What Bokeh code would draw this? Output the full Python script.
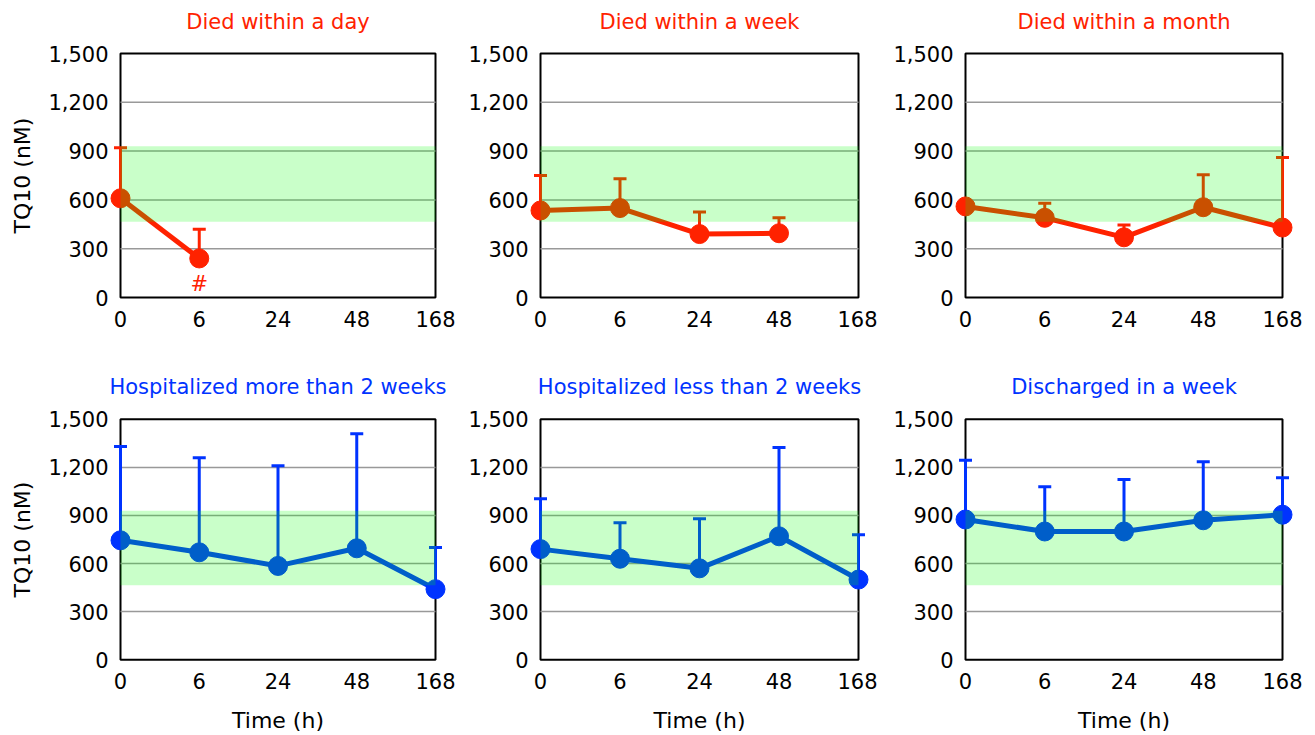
import numpy as np
from bokeh.plotting import figure
from bokeh.layouts import column, row
from bokeh.models import Range1d, FixedTicker, NumeralTickFormatter, BoxAnnotation, ColumnDataSource, Label
from bokeh.core.properties import value
from bokeh.embed import file_html
from bokeh.resources import INLINE

nan = float("nan")

# ---- data ----
time_labels = ["0", "6", "24", "48", "168"]
y_ticks = [0, 300, 600, 900, 1200, 1500]
normal_range = [465, 930]

died_day_mean = [610, 240, nan, nan, nan]
died_day_upper = [920, 420, nan, nan, nan]
died_day_marks = ["", "#", "", "", ""]

died_week_mean = [535, 550, 390, 395, nan]
died_week_upper = [750, 730, 525, 490, nan]

died_month_mean = [560, 490, 370, 555, 430]
died_month_upper = [nan, 580, 445, 755, 860]

hosp_more_mean = [745, 670, 585, 695, 440]
hosp_more_upper = [1330, 1260, 1210, 1410, 700]

hosp_less_mean = [690, 630, 570, 770, 500]
hosp_less_upper = [1005, 855, 880, 1325, 780]

discharged_mean = [875, 800, 800, 870, 905]
discharged_upper = [1245, 1080, 1125, 1235, 1135]

titles = ["Died within a day", "Died within a week", "Died within a month",
          "Hospitalized more than 2 weeks", "Hospitalized less than 2 weeks", "Discharged in a week"]

RED = "#ff2200"
BLUE = "#0033ff"
FONT = "DejaVu Sans"

# column geometry: (width, left border, right border) of the visible box
cols = [(455, 120, 20), (422, 85, 19), (438, 88, 33)]
# row geometry: (height, top border, bottom border) of the visible box
rows = [(360, 53, 63), (375, 59, 75)]
PAD = 14   # px of frame left/right of the visible box so that edge markers are not clipped
EXT = 50   # px of frame above and below the visible box (room for the title, keeps label centred)


def make_panel(title, color, mean, upper, ci, ri, marks=None):
    w, bl, br = cols[ci]
    h, bt, bb = rows[ri]
    n = len(time_labels)
    box_w = w - bl - br
    box_h = h - bt - bb
    pad = PAD / (box_w / (n - 1))
    ext = EXT * (y_ticks[-1] - y_ticks[0]) / box_h
    p = figure(width=w, height=h, output_backend="svg", toolbar_location=None,
               x_range=Range1d(-pad, n - 1 + pad),
               y_range=Range1d(y_ticks[0] - ext, y_ticks[-1] + ext),
               min_border_left=bl - PAD, min_border_right=br - PAD,
               min_border_top=bt - EXT, min_border_bottom=bb - EXT,
               background_fill_color=None, border_fill_color="white")
    x = np.arange(n, dtype=float)
    src = ColumnDataSource(dict(x=x, m=np.array(mean, dtype=float), u=np.array(upper, dtype=float)))

    box = BoxAnnotation(left=0, right=n - 1, bottom=y_ticks[0], top=y_ticks[-1],
                        fill_alpha=0, line_color="black", line_alpha=1, line_width=2,
                        level="underlay")
    p.add_layout(box)

    # horizontal grid lines inside the visible box
    gy = np.array(y_ticks[1:-1], dtype=float)
    p.segment(x0=np.zeros_like(gy), y0=gy, x1=np.full_like(gy, n - 1), y1=gy,
              line_color="#999999", line_width=1.5)

    p.segment(x0="x", y0="m", x1="x", y1="u", source=src, line_color=color, line_width=3)
    p.scatter(x="x", y="u", source=src, marker="dash", size=13, line_color=color, line_width=3)
    p.line(x="x", y="m", source=src, line_color=color, line_width=5)
    p.scatter(x="x", y="m", source=src, marker="circle", size=19, fill_color=color, line_color=color)
    if marks is not None:
        p.text(x=x, y=np.array(mean, dtype=float), text=marks, text_color=color,
               text_font=value(FONT), text_font_size="21px", text_align="center",
               text_baseline="middle", y_offset=26)

    band = BoxAnnotation(left=0, right=n - 1, bottom=normal_range[0], top=normal_range[1],
                         fill_color="#00ff00", fill_alpha=0.21, line_alpha=0, level="overlay")
    p.add_layout(band)

    ttl = Label(x=(n - 1) / 2, y=y_ticks[-1], y_offset=32, text=title, text_color=color,
                text_font=FONT, text_font_size="21px", text_align="center",
                text_baseline="middle")
    p.add_layout(ttl)

    p.xaxis.ticker = FixedTicker(ticks=list(range(n)))
    p.xaxis.major_label_overrides = {i: lab for i, lab in enumerate(time_labels)}
    p.yaxis.ticker = FixedTicker(ticks=y_ticks)
    p.yaxis.formatter = NumeralTickFormatter(format="0,0")
    for ax in (p.xaxis[0], p.yaxis[0]):
        ax.major_tick_line_color = None
        ax.major_tick_out = 0
        ax.major_tick_in = 0
        ax.minor_tick_line_color = None
        ax.minor_tick_out = 0
        ax.minor_tick_in = 0
        ax.axis_line_color = None
        ax.major_label_text_font = FONT
        ax.major_label_text_font_size = "21px"
        ax.major_label_text_color = "black"
        ax.axis_label_text_font = FONT
        ax.axis_label_text_font_size = "22px"
        ax.axis_label_text_font_style = "normal"
        ax.axis_label_text_color = "black"
    p.yaxis.major_label_standoff = -2
    p.xaxis.major_label_standoff = 13 - EXT
    if ci == 0:
        p.yaxis.axis_label = "TQ10 (nM)"
        p.yaxis.axis_label_standoff = 10
    if ri == 1:
        p.xaxis.axis_label = "Time (h)"
        p.xaxis.axis_label_standoff = 16

    p.xgrid.grid_line_color = None
    p.ygrid.grid_line_color = None
    p.outline_line_color = None
    return p


p1 = make_panel(titles[0], RED, died_day_mean, died_day_upper, 0, 0, marks=died_day_marks)
p2 = make_panel(titles[1], RED, died_week_mean, died_week_upper, 1, 0)
p3 = make_panel(titles[2], RED, died_month_mean, died_month_upper, 2, 0)
p4 = make_panel(titles[3], BLUE, hosp_more_mean, hosp_more_upper, 0, 1)
p5 = make_panel(titles[4], BLUE, hosp_less_mean, hosp_less_upper, 1, 1)
p6 = make_panel(titles[5], BLUE, discharged_mean, discharged_upper, 2, 1)

layout = column(row(p1, p2, p3, spacing=0), row(p4, p5, p6, spacing=0), spacing=0)
open("out.html", "w").write(file_html(layout, INLINE))
